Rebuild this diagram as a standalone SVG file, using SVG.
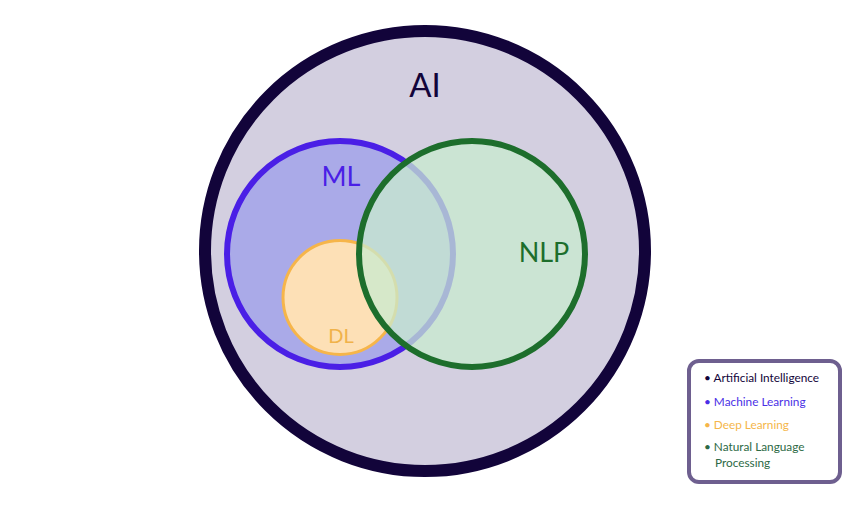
<svg xmlns="http://www.w3.org/2000/svg" width="855" height="506" viewBox="0 0 855 506">
<style>
.lbl{font-family:"Lato","Noto Sans",sans-serif;}
.leg{font-family:"Lato","Noto Sans",sans-serif;font-size:11.8px;}
</style>
<rect width="855" height="506" fill="#ffffff"/>
<g id="ai">
<circle cx="425" cy="251" r="220" fill="#d3cfe0" stroke="#12043a" stroke-width="12"/>
<text class="lbl" x="425" y="97" font-size="33" fill="#12043a" text-anchor="middle">AI</text>
</g>
<g id="ml">
<circle cx="340" cy="254" r="113" fill="#aaaae8" stroke="#4a1fe6" stroke-width="6"/>
</g>
<g id="dl">
<circle cx="340" cy="297.5" r="57" fill="#fde0b6" stroke="#f6b54a" stroke-width="3"/>
</g>
<g id="nlp">
<circle cx="472" cy="254" r="113" fill="#c8ebcf" fill-opacity="0.75" stroke="#1d6e2c" stroke-width="6"/>
<text class="lbl" x="544" y="262" font-size="27" fill="#1d6e2c" text-anchor="middle">NLP</text>
</g>
<g id="labels">
<text class="lbl" x="341" y="186" font-size="27" fill="#4a1fe6" text-anchor="middle">ML</text>
<text class="lbl" x="341" y="343" font-size="20" fill="#f0b24a" text-anchor="middle">DL</text>
</g>
<g id="connectors"></g>
<g id="legend">
<rect x="689" y="361" width="151" height="121" rx="10" fill="#ffffff" stroke="#6e5f8f" stroke-width="4"/>
<text class="leg" x="704" y="382" fill="#12043a">• Artificial Intelligence</text>
<text class="leg" x="704" y="406" fill="#4a2fe6">• Machine Learning</text>
<text class="leg" x="704" y="429" fill="#f5b64a">• Deep Learning</text>
<text class="leg" x="704" y="451" fill="#2d6a45">• Natural Language</text>
<text class="leg" x="715" y="467" fill="#2d6a45">Processing</text>
</g>
</svg>
